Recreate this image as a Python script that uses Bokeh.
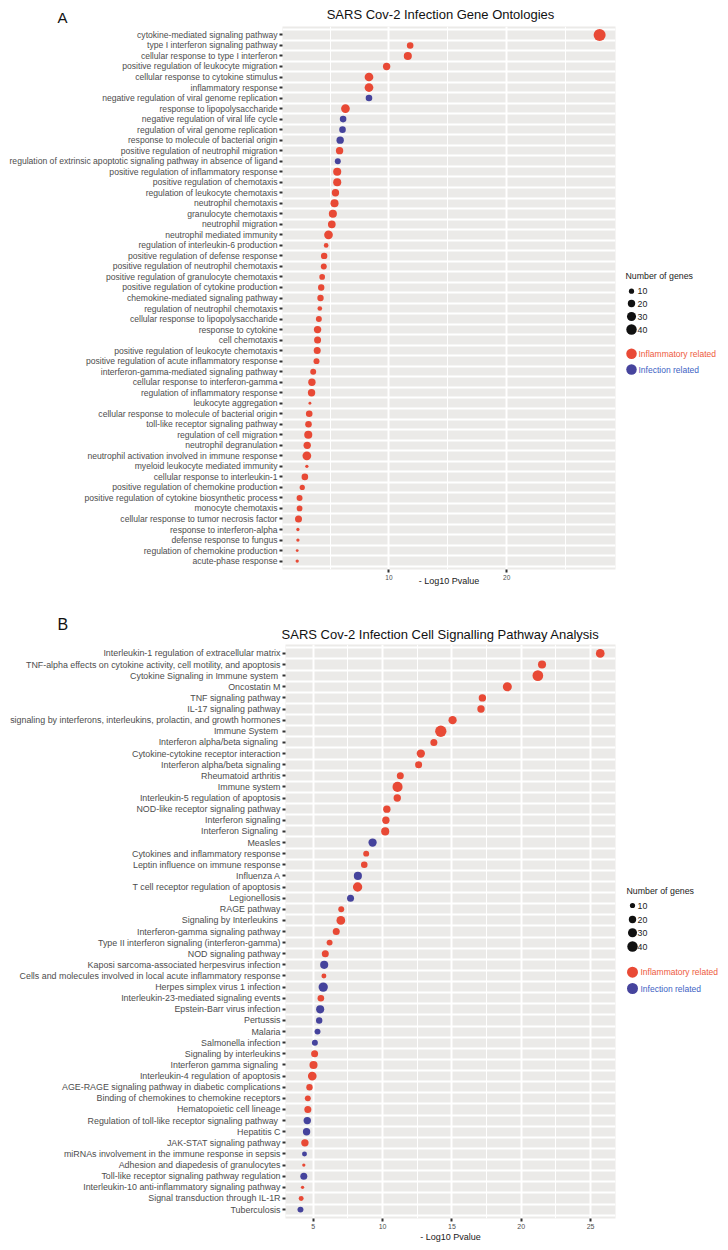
import math
from bokeh.plotting import figure
from bokeh.models import FactorRange, Range1d, FixedTicker, ColumnDataSource
from bokeh.layouts import column, row
from bokeh.embed import file_html
from bokeh.resources import INLINE
from bokeh.core.properties import value

FONT = "Liberation Sans"
RED = "#E8402B"
BLUE = "#3C3A98"
PANEL = "#EBEAE8"

# ---------------- Panel A data (Gene Ontologies) ----------------
go_terms = [
    "cytokine-mediated signaling pathway",
    "type I interferon signaling pathway",
    "cellular response to type I interferon",
    "positive regulation of leukocyte migration",
    "cellular response to cytokine stimulus",
    "inflammatory response",
    "negative regulation of viral genome replication",
    "response to lipopolysaccharide",
    "negative regulation of viral life cycle",
    "regulation of viral genome replication",
    "response to molecule of bacterial origin",
    "positive regulation of neutrophil migration",
    "regulation of extrinsic apoptotic signaling pathway in absence of ligand",
    "positive regulation of inflammatory response",
    "positive regulation of chemotaxis",
    "regulation of leukocyte chemotaxis",
    "neutrophil chemotaxis",
    "granulocyte chemotaxis",
    "neutrophil migration",
    "neutrophil mediated immunity",
    "regulation of interleukin-6 production",
    "positive regulation of defense response",
    "positive regulation of neutrophil chemotaxis",
    "positive regulation of granulocyte chemotaxis",
    "positive regulation of cytokine production",
    "chemokine-mediated signaling pathway",
    "regulation of neutrophil chemotaxis",
    "cellular response to lipopolysaccharide",
    "response to cytokine",
    "cell chemotaxis",
    "positive regulation of leukocyte chemotaxis",
    "positive regulation of acute inflammatory response",
    "interferon-gamma-mediated signaling pathway",
    "cellular response to interferon-gamma",
    "regulation of inflammatory response",
    "leukocyte aggregation",
    "cellular response to molecule of bacterial origin",
    "toll-like receptor signaling pathway",
    "regulation of cell migration",
    "neutrophil degranulation",
    "neutrophil activation involved in immune response",
    "myeloid leukocyte mediated immunity",
    "cellular response to interleukin-1",
    "positive regulation of chemokine production",
    "positive regulation of cytokine biosynthetic process",
    "monocyte chemotaxis",
    "cellular response to tumor necrosis factor",
    "response to interferon-alpha",
    "defense response to fungus",
    "regulation of chemokine production",
    "acute-phase response",
]
go_logp = [27.9, 11.8, 11.6, 9.8, 8.3, 8.3, 8.3, 6.3, 6.1, 6.05,
           5.85, 5.8, 5.65, 5.6, 5.6, 5.45, 5.37, 5.23, 5.14, 4.86,
           4.66, 4.49, 4.46, 4.32, 4.24, 4.18, 4.12, 4.04, 3.93, 3.93,
           3.9, 3.84, 3.56, 3.45, 3.42, 3.28, 3.22, 3.16, 3.14, 3.05,
           3.02, 3.02, 2.85, 2.63, 2.4, 2.4, 2.31, 2.26, 2.26, 2.2, 2.2]
go_genes = [53, 16, 24, 20, 28, 28, 16, 28, 16, 16,
            20, 20, 13, 24, 24, 20, 24, 24, 22, 28,
            8, 15, 13, 12, 15, 15, 8, 13, 20, 18,
            18, 13, 13, 20, 20, 3, 16, 16, 24, 20,
            28, 4, 16, 10, 13, 12, 18, 4, 4, 3, 4]
go_group = ["Inflammatory"] * 51
for i in [7, 9, 10, 11, 13]:
    go_group[i - 1] = "Infection"

# ---------------- Panel B data (Cell Signalling Pathways) ----------------
pw_terms = [
    "Interleukin-1 regulation of extracellular matrix",
    "TNF-alpha effects on cytokine activity, cell motility, and apoptosis",
    "Cytokine Signaling in Immune system ",
    "Oncostatin M",
    "TNF signaling pathway",
    "IL-17 signaling pathway",
    "signaling by interferons, interleukins, prolactin, and growth hormones",
    "Immune System ",
    "Interferon alpha/beta signaling ",
    "Cytokine-cytokine receptor interaction",
    "Interferon alpha/beta signaling",
    "Rheumatoid arthritis",
    "Immune system",
    "Interleukin-5 regulation of apoptosis",
    "NOD-like receptor signaling pathway",
    "Interferon signaling",
    "Interferon Signaling ",
    "Measles",
    "Cytokines and inflammatory response",
    "Leptin influence on immune response",
    "Influenza A",
    "T cell receptor regulation of apoptosis",
    "Legionellosis",
    "RAGE pathway",
    "Signaling by Interleukins ",
    "Interferon-gamma signaling pathway",
    "Type II interferon signaling (interferon-gamma)",
    "NOD signaling pathway",
    "Kaposi sarcoma-associated herpesvirus infection",
    "Cells and molecules involved in local acute inflammatory response",
    "Herpes simplex virus 1 infection",
    "Interleukin-23-mediated signaling events",
    "Epstein-Barr virus infection",
    "Pertussis",
    "Malaria",
    "Salmonella infection",
    "Signaling by interleukins",
    "Interferon gamma signaling ",
    "Interleukin-4 regulation of apoptosis",
    "AGE-RAGE signaling pathway in diabetic complications",
    "Binding of chemokines to chemokine receptors",
    "Hematopoietic cell lineage",
    "Regulation of toll-like receptor signaling pathway ",
    "Hepatitis C",
    "JAK-STAT signaling pathway",
    "miRNAs involvement in the immune response in sepsis",
    "Adhesion and diapedesis of granulocytes",
    "Toll-like receptor signaling pathway regulation",
    "Interleukin-10 anti-inflammatory signaling pathway",
    "Signal transduction through IL-1R",
    "Tuberculosis",
]
pw_logp = [25.7, 21.5, 21.2, 19.0, 17.2, 17.1, 15.05, 14.2, 13.7, 12.76,
           12.6, 11.28, 11.08, 11.06, 10.31, 10.24, 10.19, 9.28, 8.82, 8.68,
           8.22, 8.2, 7.69, 7.02, 6.99, 6.66, 6.18, 5.87, 5.79, 5.77,
           5.72, 5.55, 5.5, 5.43, 5.31, 5.12, 5.1, 5.02, 4.93, 4.73,
           4.61, 4.61, 4.57, 4.52, 4.4, 4.37, 4.32, 4.32, 4.23, 4.13, 4.08]
pw_genes = [28, 24, 42, 30, 20, 20, 25, 47, 18, 25,
            18, 18, 37, 20, 20, 20, 24, 25, 13, 16,
            24, 32, 18, 13, 28, 18, 13, 18, 24, 9,
            32, 16, 24, 15, 13, 13, 18, 24, 28, 15,
            13, 18, 20, 20, 20, 9, 4, 18, 4, 9, 13]
pw_group = ["Inflammatory"] * 51
for i in [18, 21, 23, 29, 31, 33, 34, 35, 36, 43, 44, 46, 48, 51]:
    pw_group[i - 1] = "Infection"

legend_counts = [10, 20, 30, 40]
legend_groups = ["Inflammatory related", "Infection related"]


def dot_size(n):
    return 1.65 * math.sqrt(n)


def base_fig(w, h, xr, yr, **kw):
    f = figure(width=w, height=h, x_range=xr, y_range=yr, x_axis_type=None,
               y_axis_type=None, toolbar_location=None, output_backend="svg", **kw)
    f.outline_line_color = None
    f.background_fill_color = "white"
    f.border_fill_color = "white"
    return f


def header(h, letter, letter_y, letter_px, title, title_y):
    hf = base_fig(728, h, Range1d(0, 728), Range1d(h, 0), min_border=0)
    hf.text(x=[57], y=[letter_y], text=[letter], text_font=value(FONT),
            text_font_size=value(letter_px), text_baseline="alphabetic",
            text_color="#111111")
    hf.text(x=[440], y=[title_y], text=[title], text_font=value(FONT),
            text_font_size=value("13px"), text_baseline="alphabetic",
            text_align="center", text_color="#111111")
    return hf


def dot_panel(terms, logp, genes, group, xr, major, minor, h, bottom, left,
              label_px, tick_px, xlab_standoff):
    factors = list(reversed(terms))
    p = figure(width=620, height=h, x_range=Range1d(*xr),
               y_range=FactorRange(factors=factors, range_padding=0.3,
                                   range_padding_units="absolute"),
               toolbar_location=None, output_backend="svg",
               min_border_left=left, min_border_right=5,
               min_border_top=0, min_border_bottom=bottom)
    p.background_fill_color = PANEL
    p.border_fill_color = "white"
    p.outline_line_color = None
    tk = FixedTicker(ticks=major, minor_ticks=minor)
    p.xaxis.ticker = tk
    p.xgrid.ticker = tk
    p.xgrid.grid_line_color = "white"
    p.xgrid.grid_line_width = 2
    p.xgrid.minor_grid_line_color = "white"
    p.xgrid.minor_grid_line_width = 1
    p.ygrid.grid_line_color = None
    p.hspan(y=list(range(len(terms) + 1)), line_color="white", line_width=2)
    src = ColumnDataSource(dict(
        term=terms, logp=logp, size=[dot_size(g) for g in genes],
        color=[RED if g == "Inflammatory" else BLUE for g in group]))
    p.scatter(x="logp", y="term", size="size", fill_color="color",
              line_color=None, fill_alpha=0.95, source=src)
    for ax in (p.xaxis, p.yaxis):
        ax.axis_line_color = None
        ax.major_tick_line_color = "#333333"
        ax.major_tick_line_width = 2
        ax.major_tick_out = 3
        ax.major_tick_in = 0
        ax.minor_tick_line_color = None
        ax.major_label_text_font = FONT
        ax.major_label_text_color = "#4D4D4D"
    p.yaxis.major_label_text_font_size = label_px
    p.yaxis.major_label_standoff = 2
    p.xaxis.major_label_text_font_size = tick_px
    p.xaxis.major_label_standoff = 1
    p.xaxis.axis_label = "- Log10 Pvalue"
    p.xaxis.axis_label_text_font = FONT
    p.xaxis.axis_label_text_font_size = "9px"
    p.xaxis.axis_label_text_font_style = "normal"
    p.xaxis.axis_label_text_color = "#1A1A1A"
    p.xaxis.axis_label_standoff = xlab_standoff
    return p


def legend_panel(h, bottom, frame_top, frame_bottom, x_title, y_title, x_dot, x_num,
                 ys_size, x_grp, ys_grp, grp_dot):
    lf = base_fig(108, h, Range1d(620, 728), Range1d(frame_bottom, frame_top),
                  min_border_left=0, min_border_right=0, min_border_top=0,
                  min_border_bottom=bottom)
    lf.text(x=[x_title], y=[y_title], text=["Number of genes"],
            text_font=value(FONT), text_font_size=value("8.8px"),
            text_baseline="middle", text_color="#222222")
    lf.scatter(x=[x_dot] * len(legend_counts), y=ys_size,
               size=[dot_size(n) for n in legend_counts], fill_color="#111111",
               line_color=None)
    lf.text(x=[x_num] * len(legend_counts), y=ys_size,
            text=[str(n) for n in legend_counts],
            text_font=value(FONT), text_font_size=value("8.8px"),
            text_baseline="middle", text_color="#222222")
    lf.scatter(x=[x_dot] * 2, y=ys_grp, size=grp_dot, fill_color=[RED, BLUE],
               line_color=None, fill_alpha=0.95)
    lf.text(x=[x_grp] * 2, y=ys_grp, text=legend_groups,
            text_font=value(FONT), text_font_size=value("8.5px"),
            text_baseline="middle", text_color=["#EE5A3C", "#3D5FC4"])
    return lf


# Panel A  (page y 0..600; frame 26..569, x 282..615)
hA = header(26, "A", 17, "15px", "SARS Cov-2 Infection Gene Ontologies", 14)
pA = dot_panel(go_terms, go_logp, go_genes, go_group, (0.95, 29.25),
               [10, 20], [5, 15, 25], h=574, bottom=31, left=282,
               label_px="8.6px", tick_px="6.5px", xlab_standoff=-7)
lA = legend_panel(574, 31, 26, 569, 625, 275.7, 631, 637,
                  [290.7, 303, 316, 329], 638, [353.3, 369], 10.5)

# Panel B  (page y 600..1248; frame 644..1218, x 285..615)
hB = header(44, "B", 24, "16px", "SARS Cov-2 Infection Cell Signalling Pathway Analysis", 34)
pB = dot_panel(pw_terms, pw_logp, pw_genes, pw_group, (3.0, 26.8),
               [5, 10, 15, 20, 25], [7.5, 12.5, 17.5, 22.5], h=604, bottom=30,
               left=285, label_px="8.9px", tick_px="7px", xlab_standoff=0)
lB = legend_panel(604, 30, 644, 1218, 626, 890, 632, 637,
                  [905, 919, 932.3, 946], 640, [971.7, 988], 11)

layout = column(row(hA), row(pA, lA), row(hB), row(pB, lB))
open("out.html", "w").write(file_html(layout, INLINE))
